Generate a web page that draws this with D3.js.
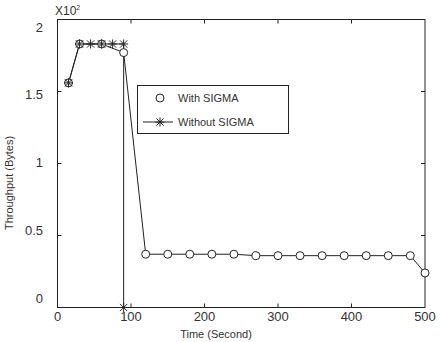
<!DOCTYPE html>
<html><head><meta charset="utf-8">
<script src="https://cdn.jsdelivr.net/npm/d3@7"></script>
<style>body{margin:0;background:#fff}svg{display:block}text{font-family:"Liberation Sans",Arial,sans-serif;fill:#333}</style>
</head><body>
<script>
// Data (throughput in units of x10^2 bytes)
const withTime   = [15, 30, 60, 90, 120, 150, 180, 210, 240, 270, 300, 330, 360, 390, 420, 450, 480, 500];
const withValue  = [1.56, 1.83, 1.83, 1.77, 0.37, 0.37, 0.37, 0.37, 0.37, 0.36, 0.36, 0.36, 0.36, 0.36, 0.36, 0.36, 0.36, 0.24];
const withoutTime  = [15, 30, 45, 60, 75, 90, 90];
const withoutValue = [1.56, 1.83, 1.83, 1.83, 1.83, 1.83, 0];
const xTicks = [0, 100, 200, 300, 400, 500];
const yTicks = [0, 0.5, 1, 1.5, 2];
const yTickLabels = ["0", "0.5", "1", "1.5", "2"];
const seriesNames = ["With SIGMA", "Without SIGMA"];

const W = 441, H = 342;
const svg = d3.select("body").append("svg").attr("width", W).attr("height", H);
const x = d3.scaleLinear().domain([0, 500]).range([57.5, 425]);
const y = d3.scaleLinear().domain([0, 2]).range([307.5, 19.5]);
// label placement scale (labels in the reference sit slightly inside the tick span)
const yLab = d3.scaleLinear().domain([0, 2]).range([298, 27]);
const stroke = "#222";

// frame
svg.append("rect").attr("x", x(0)).attr("y", y(2)).attr("width", x(500) - x(0)).attr("height", y(0) - y(2))
  .attr("fill", "none").attr("stroke", stroke).attr("stroke-width", 1);

// ticks inward
const tk = 4;
const g = svg.append("g").attr("stroke", stroke).attr("stroke-width", 1);
xTicks.slice(1, -1).forEach(t => {
  g.append("line").attr("x1", x(t)).attr("x2", x(t)).attr("y1", y(0)).attr("y2", y(0) - tk);
  g.append("line").attr("x1", x(t)).attr("x2", x(t)).attr("y1", y(2)).attr("y2", y(2) + tk);
});
yTicks.slice(1, -1).forEach(t => {
  g.append("line").attr("x1", x(0)).attr("x2", x(0) + tk).attr("y1", y(t)).attr("y2", y(t));
  g.append("line").attr("x1", x(500)).attr("x2", x(500) - tk).attr("y1", y(t)).attr("y2", y(t));
});

// tick labels
svg.append("g").selectAll("text").data(xTicks).join("text")
  .attr("x", d => x(d)).attr("y", 321).attr("text-anchor", "middle")
  .attr("font-size", 13).text(d => d);
svg.append("g").selectAll("text").data(yTicks).join("text")
  .attr("x", 43).attr("y", d => yLab(d)).attr("dy", "0.35em").attr("text-anchor", "end")
  .attr("font-size", 13).text((d, i) => yTickLabels[i]);

// exponent
const ex = svg.append("text").attr("x", 55).attr("y", 15).attr("font-size", 12);
ex.append("tspan").text("X10");
ex.append("tspan").attr("dy", -5).attr("font-size", 7).text("2");

// axis titles
svg.append("text").attr("x", 216).attr("y", 338).attr("text-anchor", "middle").attr("font-size", 11).text("Time (Second)");
svg.append("text").attr("transform", "translate(13,183) rotate(-90)").attr("text-anchor", "middle").attr("font-size", 11).text("Throughput (Bytes)");

// lines
const line = d3.line().x(d => x(d[0])).y(d => y(d[1]));
const withData = withTime.map((t, i) => [t, withValue[i]]);
const withoutData = withoutTime.map((t, i) => [t, withoutValue[i]]);
svg.append("path").datum(withData).attr("d", line).attr("fill", "none").attr("stroke", stroke).attr("stroke-width", 1);
svg.append("path").datum(withoutData).attr("d", line).attr("fill", "none").attr("stroke", stroke).attr("stroke-width", 1);

// markers
function circleMarker(sel, cx, cy) {
  sel.append("circle").attr("cx", cx).attr("cy", cy).attr("r", 4).attr("fill", "#fff").attr("stroke", stroke).attr("stroke-width", 1);
}
function starMarker(sel, cx, cy) {
  const s = 4.5, d = 3.6;
  const p = `M${cx},${cy - s}L${cx},${cy + s}M${cx - s},${cy}L${cx + s},${cy}M${cx - d},${cy - d}L${cx + d},${cy + d}M${cx - d},${cy + d}L${cx + d},${cy - d}`;
  sel.append("path").attr("d", p).attr("fill", "none").attr("stroke", stroke).attr("stroke-width", 1);
}
const mk = svg.append("g");
withData.forEach(d => circleMarker(mk, x(d[0]), y(d[1])));
withoutData.forEach(d => starMarker(mk, x(d[0]), y(d[1])));

// legend
const lg = svg.append("g");
lg.append("rect").attr("x", 137.5).attr("y", 85.5).attr("width", 151).attr("height", 48)
  .attr("fill", "#fff").attr("stroke", stroke).attr("stroke-width", 1);
circleMarker(lg, 160, 98);
lg.append("line").attr("x1", 143).attr("x2", 173).attr("y1", 122).attr("y2", 122).attr("stroke", stroke);
starMarker(lg, 160, 122);
lg.selectAll("text.l").data(seriesNames).join("text").attr("class", "l")
  .attr("x", 178).attr("y", (d, i) => 98 + i * 24).attr("dy", "0.35em").attr("font-size", 11).text(d => d);
</script>
</body></html>
